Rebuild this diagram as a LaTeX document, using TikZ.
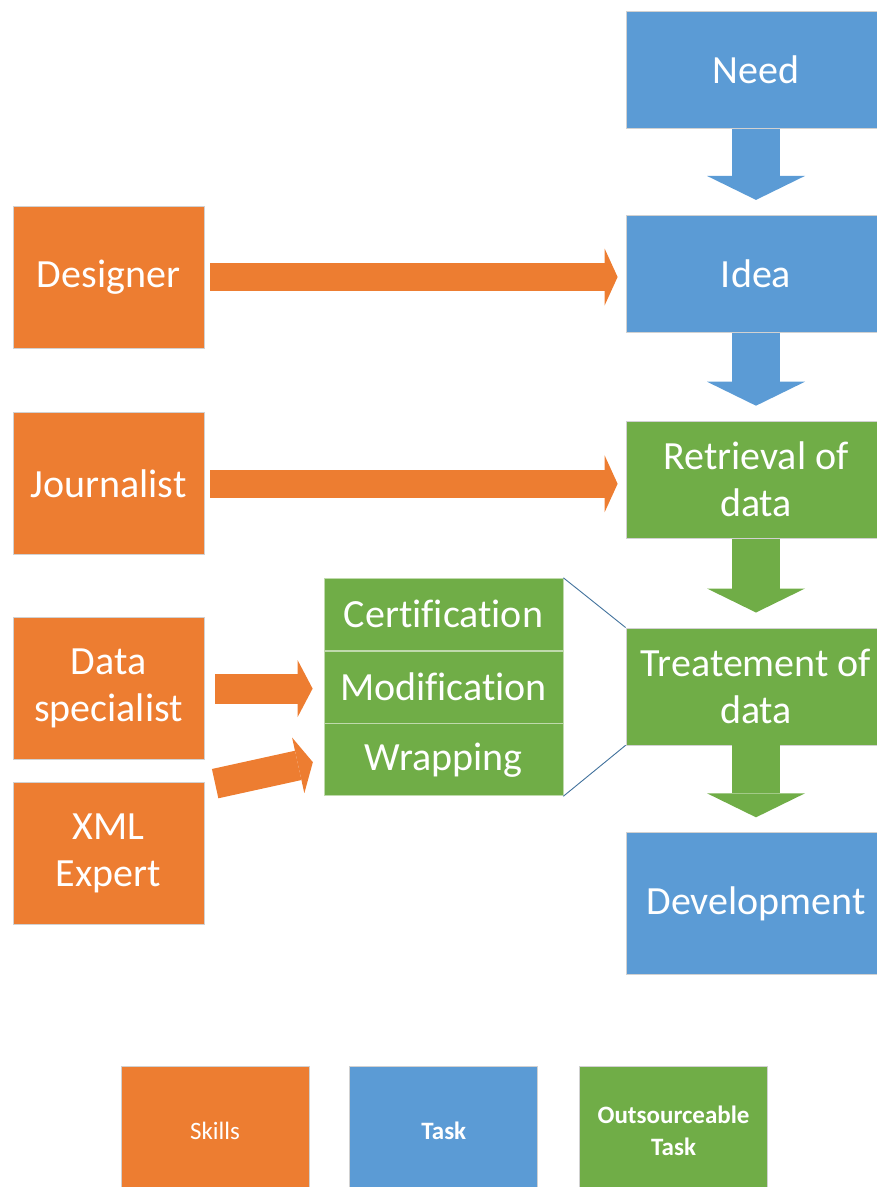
\documentclass[tikz,border=0pt]{standalone}
\usepackage{fontspec}
\setmainfont{Carlito}[Ligatures=NoCommon]
\usetikzlibrary{arrows.meta,positioning}
\definecolor{skillorange}{HTML}{ED7D31}
\definecolor{taskblue}{HTML}{5B9BD5}
\definecolor{outgreen}{HTML}{70AD47}
\definecolor{linkblue}{HTML}{41719C}
\tikzset{
    every picture/.style={x=1pt,y=-1pt,node distance=64pt},
    box/.style={draw=black!18,line width=.8pt,text=white,align=center,inner sep=0pt,
        font=\fontsize{40}{47}\selectfont},
    skill/.style={box,fill=skillorange,minimum width=191pt,minimum height=142pt},
    task/.style={box,fill=taskblue,minimum width=260pt,minimum height=117pt},
    outsrc/.style={box,fill=outgreen,minimum width=260pt,minimum height=117pt},
    subtask/.style={box,fill=outgreen,draw=white!55!outgreen,minimum width=239pt,minimum height=72pt},
    key/.style={box,minimum width=188pt,minimum height=130pt,font=\fontsize{25}{32}\selectfont},
    flow/.style={#1,line width=48pt,-{Triangle[length=24pt,width=98pt,line width=0pt]},shorten >=15pt},
    assign/.style={skillorange,line width=28pt,-{Triangle[length=13pt,width=57pt,line width=0pt]},
        shorten <=6pt,shorten >=8pt},
    feed/.style={skillorange,line width=30pt,-{Triangle[length=15pt,width=57pt,line width=0pt]},
        shorten <=11pt,shorten >=11pt},
    link/.style={linkblue,line width=.9pt}
}
\begin{document}
\begin{tikzpicture}
    \useasboundingbox (0,0) rectangle (877,1187);
    \node[task]   (need) at (756,70)             {Need};
    \node[task]   (idea) [below=86pt of need]    {Idea};
    \node[outsrc] (retr) [below=88pt of idea]    {Retrieval of\\data};
    \node[outsrc] (treat) [below=89pt of retr]   {Treatement of\\data};
    \node[task,minimum height=142pt] (dev) [below=87pt of treat] {Development};

    \node[skill]  (designer) at (108.5,277)            {Designer};
    \node[skill]  (journ) [below=of designer]          {Journalist};
    \node[skill]  (dspec) [below=62pt of journ]        {Data\\specialist};
    \node[skill]  (xml) [below=22pt of dspec]          {XML\\Expert};

    \node[subtask] (modif) at (443.5,687)         {Modification};
    \node[subtask] (certif) [above=0pt of modif]  {Certification};
    \node[subtask] (wrap) [below=0pt of modif]    {Wrapping};

    \node[key,fill=skillorange] (kskill) at (215,1131)    {Skills};
    \node[key,fill=taskblue,font=\fontsize{25}{32}\selectfont\bfseries] (ktask) [right=40pt of kskill] {Task};
    \node[key,fill=outgreen,font=\fontsize{25}{32}\selectfont\bfseries] (kout) [right=41pt of ktask] {Outsourceable\\Task};

    \path (need.south) edge[flow=taskblue] (idea.north)
          (idea.south) edge[flow=taskblue] (retr.north)
          (retr.south) edge[flow=outgreen] (treat.north)
          (treat.south) edge[flow=outgreen] (dev.north)
          (designer.east) edge[assign] (designer.east -| idea.west)
          (journ.east) edge[assign] (journ.east -| retr.west)
          (dspec.east) edge[feed] (dspec.east -| modif.west)
          ([yshift=-4pt]xml.north east) edge[feed] (wrap.west)
          (certif.north east) edge[link] (treat.north west)
          (wrap.south east) edge[link] (treat.south west);
\end{tikzpicture}
\end{document}
